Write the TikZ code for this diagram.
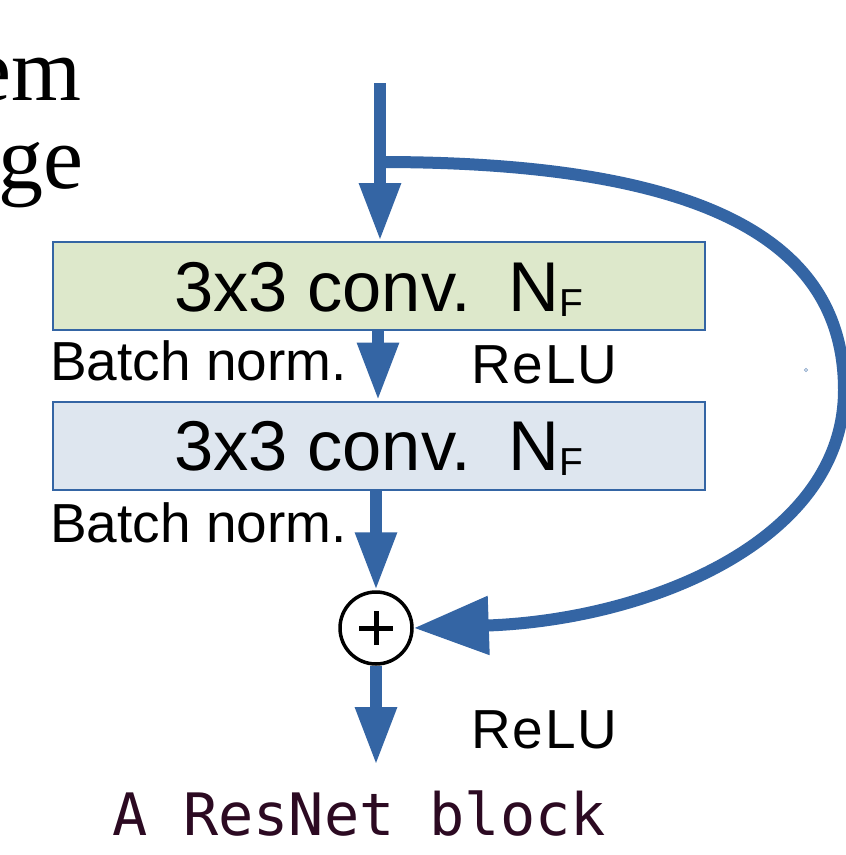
\documentclass[tikz,border=0pt]{standalone}
\usepackage{fontspec}
\setmainfont{Liberation Sans}
\newfontfamily\serifface{Liberation Serif}
\newfontfamily\monoface{DejaVu Sans Mono}
\newfontfamily\reluface[LetterSpace=3.5]{Liberation Sans}
\usetikzlibrary{arrows.meta}
\definecolor{flowblue}{HTML}{3465A4}
\definecolor{convgreen}{HTML}{DDE8CB}
\definecolor{convblue}{HTML}{DEE6EF}
\definecolor{aubergine}{HTML}{2C0A22}

\begin{document}
\begin{tikzpicture}[x=1pt,y=-1pt,
  flow/.style={draw=flowblue, line width=12pt, -{Triangle[length=58pt,width=39pt]}},
  skip/.style={draw=flowblue, line width=12pt, -{Triangle[length=75pt,width=56pt]}},
  conv/.style={draw=flowblue, line width=2pt, minimum width=652pt, minimum height=88pt,
    inner sep=0pt, text height=50pt, text depth=0pt, font=\fontsize{70.5}{80}\selectfont},
  lbl/.style={inner sep=0pt, anchor=base west, font=\fontsize{55}{60}\selectfont},
  actlbl/.style={inner sep=0pt, anchor=base west, font=\reluface\fontsize{55}{60}\selectfont},
  slide/.style={inner sep=0pt, anchor=base east, font=\serifface\fontsize{90}{100}\selectfont},
]
\fill[white] (0,0) rectangle (846,855);
\useasboundingbox (0,0) rectangle (846,855);

% fragments of the slide text on the left
\node[slide] (w1) at (82,100) {em};
\node[slide] (w2) at (84,188) {ge};

% the two convolution layers
\node[conv, fill=convgreen] (conv1) at (379,286)
  {3x3 conv.\hspace{38pt}N{\fontsize{39}{39}\selectfont\raisebox{-5pt}{F}}};
\node[conv, fill=convblue] (conv2) at (379,445.5)
  {3x3 conv.\hspace{38pt}N{\fontsize{39}{39}\selectfont\raisebox{-5pt}{F}}};

% summing junction
\node[circle, draw=black, fill=white, line width=3.5pt, minimum size=72pt, inner sep=0pt]
  (sum) at (376,628) {};
\draw[line width=5pt] ([xshift=-17pt]sum.center) -- ([xshift=17pt]sum.center);
\draw[line width=5pt] ([yshift=-17pt]sum.center) -- ([yshift=17pt]sum.center);

% labels
\node[lbl] (bn1) at (50,380) {Batch norm.};
\node[actlbl] (relu1) at (471,383) {ReLU};
\node[lbl] (bn2) at (50,542) {Batch norm.};
\node[actlbl] (relu2) at (471,748) {ReLU};

% caption
\node[inner sep=0pt, anchor=base west, text=aubergine,
  font=\monoface\fontsize{58.5}{66}\selectfont] (caption) at (112.5,835) {A ResNet block};

% connectors
\coordinate (in) at (380,83);
\coordinate (split) at (380,162);
\coordinate (out) at (376,765);

\draw[skip] (split) .. controls (722,162) and (844,250) .. (844,390)
  .. controls (844,540) and (650,620) .. (sum.east);
\draw[flow] (in) -- (in |- conv1.north);
\draw[flow] ([xshift=-1pt]conv1.south) -- ([xshift=-1pt]conv2.north);
\draw[flow] (conv2.south -| sum.north) -- (sum.north);
\draw[flow] (sum.south) -- (out);

% small stray mark
\draw[flowblue!60, line width=0.6pt] (806,370) circle (1.6pt);
\end{tikzpicture}
\end{document}
